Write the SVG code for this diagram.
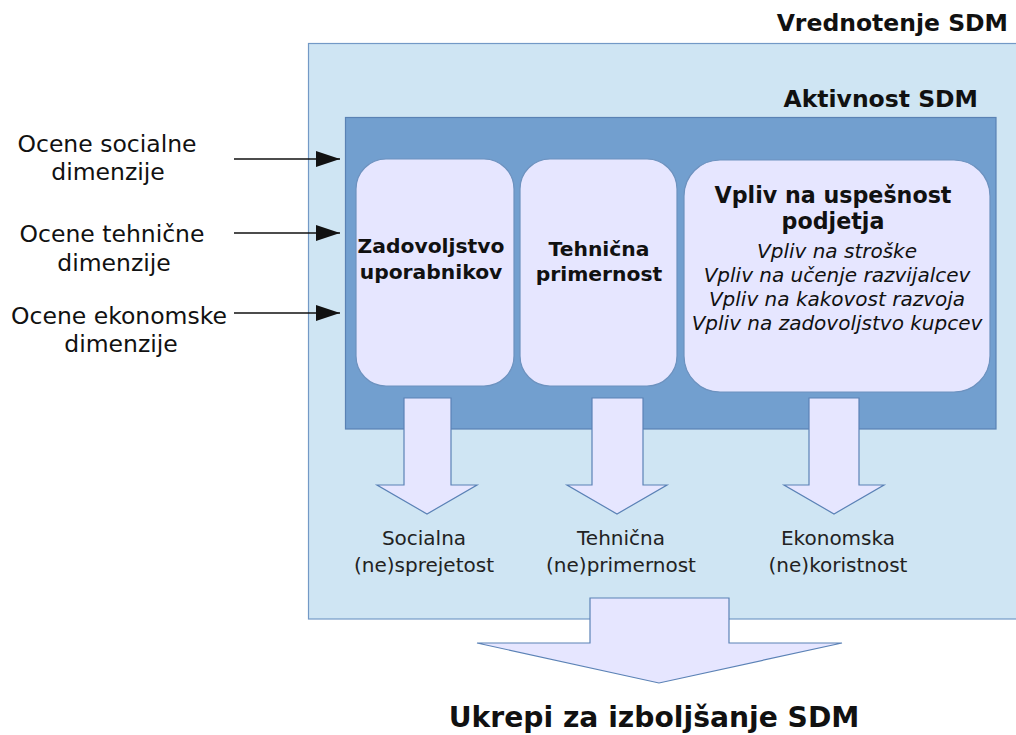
<svg xmlns="http://www.w3.org/2000/svg" width="1016" height="735" viewBox="0 0 1016 735">
<style>
text{font-family:"DejaVu Sans","Liberation Sans",sans-serif;fill:#111}
.title{font-weight:bold;font-size:23.5px}
.lbl{font-size:23.5px;text-anchor:middle}
.bt{font-weight:bold;font-size:20.3px;text-anchor:middle}
.bt3{font-weight:bold;font-size:22.2px;text-anchor:middle}
.it{font-style:italic;font-size:20px;text-anchor:middle}
.out{font-size:20px;text-anchor:middle;fill:#222}
.box{fill:#e6e6ff;stroke:#6d92bf;stroke-width:1.2}
.arr{fill:#e6e6ff;stroke:#5b82b6;stroke-width:1.2}
.ln{stroke:#111;stroke-width:1.3;fill:none}
</style>
<defs>
<marker id="ah" markerWidth="24" markerHeight="16" refX="24" refY="8" orient="auto" markerUnits="userSpaceOnUse">
<path d="M0,0 L24,8 L0,16 Z" fill="#111"/>
</marker>
</defs>
<rect width="1016" height="735" fill="#ffffff"/>
<g id="vrednotenje">
<rect x="308.5" y="43.5" width="720" height="575.5" fill="#cfe5f3" stroke="#7399c6" stroke-width="1.2"/>
<text class="title" x="1008" y="31" text-anchor="end">Vrednotenje SDM</text>
</g>
<g id="aktivnost">
<rect x="345.5" y="117.5" width="650.5" height="311.5" fill="#729fcf" stroke="#5a82b4" stroke-width="1.2"/>
<text class="title" x="978" y="107" text-anchor="end">Aktivnost SDM</text>
</g>
<g id="zadovoljstvo">
<rect class="box" x="356" y="159" width="158" height="227" rx="30"/>
<text class="bt" x="431" y="253">Zadovoljstvo</text>
<text class="bt" x="431" y="279">uporabnikov</text>
</g>
<g id="tehnicna">
<rect class="box" x="520" y="159" width="157" height="227" rx="30"/>
<text class="bt" x="599" y="256">Tehnična</text>
<text class="bt" x="599" y="281">primernost</text>
</g>
<g id="vpliv">
<rect class="box" x="684" y="160" width="306" height="232" rx="36"/>
<text class="bt3" x="833" y="203">Vpliv na uspešnost</text>
<text class="bt3" x="833" y="229">podjetja</text>
<text class="it" x="837" y="258">Vpliv na stroške</text>
<text class="it" x="837" y="282">Vpliv na učenje razvijalcev</text>
<text class="it" x="837" y="306">Vpliv na kakovost razvoja</text>
<text class="it" x="837" y="330">Vpliv na zadovoljstvo kupcev</text>
</g>
<g id="in-socialne">
<text class="lbl" x="107" y="152">Ocene socialne</text>
<text class="lbl" x="108" y="180">dimenzije</text>
</g>
<g id="in-tehnicne">
<text class="lbl" x="112" y="242">Ocene tehnične</text>
<text class="lbl" x="114" y="271">dimenzije</text>
</g>
<g id="in-ekonomske">
<text class="lbl" x="119" y="324">Ocene ekonomske</text>
<text class="lbl" x="121" y="352">dimenzije</text>
</g>
<g id="out-socialna">
<text class="out" x="424" y="545">Socialna</text>
<text class="out" x="424" y="572">(ne)sprejetost</text>
</g>
<g id="out-tehnicna">
<text class="out" x="621" y="545">Tehnična</text>
<text class="out" x="621" y="572">(ne)primernost</text>
</g>
<g id="out-ekonomska">
<text class="out" x="838" y="545">Ekonomska</text>
<text class="out" x="838" y="572">(ne)koristnost</text>
</g>
<g id="ukrepi">
<text class="title" x="654" y="727" text-anchor="middle" style="font-size:28.2px">Ukrepi za izboljšanje SDM</text>
</g>
<g id="connectors">
<line class="ln" x1="234" y1="159" x2="340" y2="159" marker-end="url(#ah)"/>
<line class="ln" x1="234" y1="233" x2="340" y2="233" marker-end="url(#ah)"/>
<line class="ln" x1="234" y1="313" x2="340" y2="313" marker-end="url(#ah)"/>
<polygon class="arr" points="404,398 451,398 451,485 477,485 427,514 377,485 404,485"/>
<polygon class="arr" points="592,398 643,398 643,485 667,485 617,514 567,485 592,485"/>
<polygon class="arr" points="809,398 859,398 859,485 884,485 834,514 784,485 809,485"/>
<polygon class="arr" points="590,598 729,598 729,643 842,643 659,683 477,643 590,643"/>
</g>
</svg>
